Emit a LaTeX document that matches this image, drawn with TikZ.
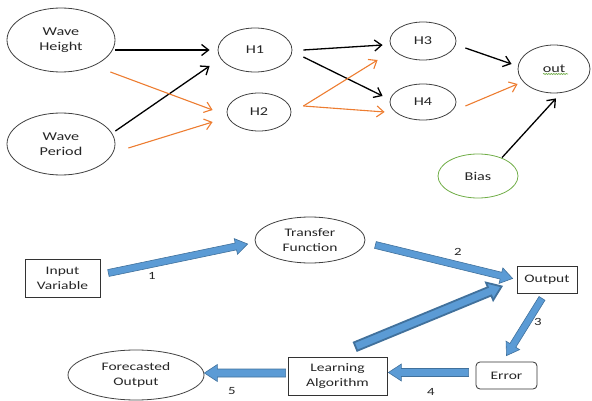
\documentclass[tikz,border=0pt]{standalone}
\usepackage{fontspec}
\setmainfont[FakeStretch=1.35]{Carlito}
\usetikzlibrary{calc,arrows.meta,shapes.geometric,decorations.pathmorphing}
\definecolor{orng}{RGB}{237,125,49}
\definecolor{grn}{RGB}{112,173,71}
\definecolor{bfill}{RGB}{91,155,213}
\definecolor{bline}{RGB}{65,113,156}
\newcommand{\blockarr}[6][]{%
  \coordinate (bA) at #2;
  \coordinate (bB) at #3;
  \coordinate (bC) at ($(bB)!#6pt!(bA)$);
  \path[barrow,#1] ($(bA)!#4pt!90:(bB)$) -- ($(bC)!#4pt!90:(bB)$) -- ($(bC)!#5pt!90:(bB)$) -- (bB)
    -- ($(bC)!#5pt!-90:(bB)$) -- ($(bC)!#4pt!-90:(bB)$) -- ($(bA)!#4pt!-90:(bB)$) -- cycle;
}
\begin{document}
\begin{tikzpicture}[x=1pt,y=-1pt,
  ell/.style={draw=black!75, line width=0.8pt, ellipse, inner sep=0pt, align=center,
    text=black!85, font=\fontsize{12}{14.5}\selectfont},
  bell/.style={ell, font=\fontsize{11.5}{15}\selectfont},
  bx/.style={draw=black!80, line width=0.8pt, rectangle, inner sep=0pt, align=center,
    text=black!85, font=\fontsize{11.5}{15}\selectfont},
  blk/.style={draw=black, line width=1.3pt, -{Straight Barb[length=7pt,width=11pt]}},
  org/.style={draw=orng, line width=1.1pt, -{Straight Barb[length=7pt,width=11pt]}},
  barrow/.style={fill=bfill, draw=bline, line width=0.6pt, line join=miter},
  num/.style={inner sep=0pt, text=black!85, font=\fontsize{11}{13}\selectfont}]
\path[use as bounding box] (0,0) rectangle (592,401);

% ---- network ----
\node[ell, minimum width=108, minimum height=64] (wh) at (61,40) {Wave\\Height};
\node[ell, minimum width=108, minimum height=62] (wp) at (61,144) {Wave\\Period};
\node[ell, minimum width=74, minimum height=44] (h1) at (255,50) {H1};
\node[ell, minimum width=64, minimum height=38] (h2) at (259,112) {H2};
\node[ell, minimum width=66, minimum height=38] (h3) at (423,41) {H3};
\node[ell, minimum width=66, minimum height=36] (h4) at (423,102) {H4};
\node[ell, minimum width=72, minimum height=48] (out) at (554,69) {out};
\node[ell, draw=grn, minimum width=80, minimum height=44] (bias) at (478,176) {Bias};
\draw[grn, line width=0.6pt, decorate, decoration={snake, amplitude=0.6pt, segment length=2.5pt}]
  ($(out)+(-11,5)$) -- ($(out)+(14,5)$);

\draw[blk] ($(wh.east)+(0,10)$) -- ($(h1.west)+(-8,0)$);
\draw[blk] ($(wp.east)+(0,-13)$) -- ($(h1.west)+(-8,16)$);
\draw[org] ($(wh.east)+(-5,32)$) -- ($(h2.west)+(-14,-2)$);
\draw[org] ($(wp.east)+(13,4)$) -- ($(h2.west)+(-14,10)$);
\draw[blk] ($(h1.east)+(11,0)$) -- ($(h3.west)+(-7,4)$);
\draw[blk] ($(h1.east)+(11,7)$) -- ($(h4.west)+(-7,-6)$);
\draw[org] ($(h2.east)+(12,-6)$) -- ($(h3.west)+(-12,19)$);
\draw[org] ($(h2.east)+(12,-6)$) -- ($(h4.west)+(-5,10)$);
\draw[blk] ($(h3.east)+(9,7)$) -- ($(out.west)+(-6,-5)$);
\draw[org] ($(h4.east)+(9,4)$) -- ($(out.west)+(0,15)$);
\draw[blk] ($(bias.north)+(24,4)$) -- ($(out.south)+(2,5)$);

% ---- learning process ----
\node[bx, minimum width=75, minimum height=38] (iv) at (62.5,278) {Input\\Variable};
\node[bell, minimum width=110, minimum height=46] (tf) at (310,240) {Transfer\\Function};
\node[bx, minimum width=60, minimum height=27] (outp) at (547,279.5) {Output};
\node[bx, rounded corners=4pt, minimum width=61, minimum height=27] (err) at (506.5,375.5) {Error};
\node[bx, minimum width=99, minimum height=38] (la) at (337.5,376) {Learning\\Algorithm};
\node[bell, minimum width=136, minimum height=50] (fo) at (136,375) {Forecasted\\Output};

\blockarr{($(iv.east)+(8,-5)$)}{($(tf.west)+(-7,4)$)}{3.5}{8}{12}
\blockarr{($(tf.east)+(10,5)$)}{($(outp.west)+(-4,-1)$)}{3.5}{8}{12}
\blockarr[line width=1.8pt]{($(la.north)+(18,-10)$)}{($(outp.south west)+(-15,-7)$)}{4.5}{9.5}{13}
\blockarr{($(outp.south)+(-5,5)$)}{($(err.north)+(0,-6)$)}{3.5}{8}{12}
\blockarr{($(err.west)+(-7,-3)$)}{($(la.east)+(1,-3.5)$)}{4}{8.5}{13}
\blockarr{($(la.west)+(-2,-3)$)}{($(fo.east)+(0,-2)$)}{4}{8.5}{13}

\node[num] (l1) at (152,276) {1};
\node[num] (l2) at (458,252) {2};
\node[num] (l3) at (538,322) {3};
\node[num] (l4) at (431,392) {4};
\node[num] (l5) at (232,391) {5};
\end{tikzpicture}
\end{document}
